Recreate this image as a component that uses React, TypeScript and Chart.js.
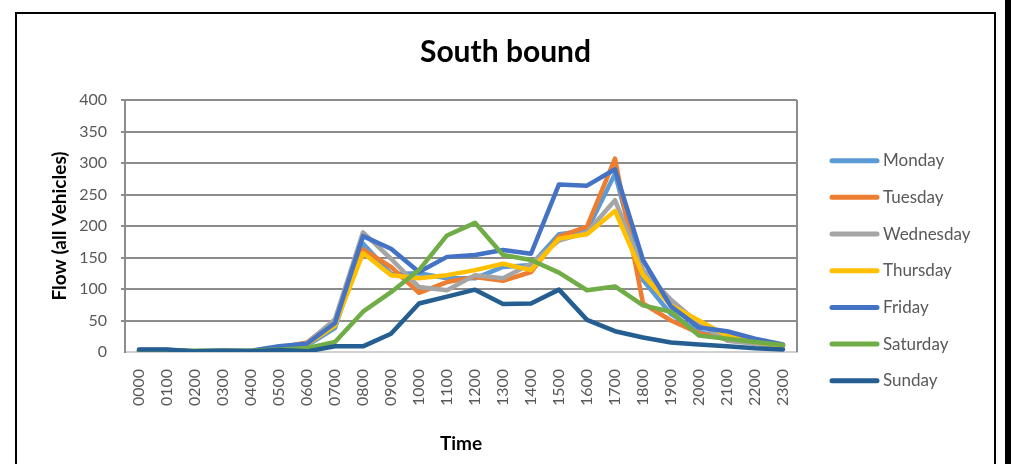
import React, { useEffect, useRef } from "react";
import { Chart, registerables } from "chart.js";

Chart.register(...registerables);

const hours = ["0000","0100","0200","0300","0400","0500","0600","0700","0800","0900","1000","1100","1200","1300","1400","1500","1600","1700","1800","1900","2000","2100","2200","2300"];

const monday = [2,2,1,1,1,6,10,38,172,124,125,117,117,135,138,187,193,283,114,60,32,21,15,10];
const tuesday = [1,1,1,1,1,7,15,50,163,135,94,111,119,113,127,183,199,307,77,50,30,20,15,10];
const wednesday = [2,2,1,1,1,7,14,52,190,148,103,98,122,117,140,177,190,241,130,83,45,18,13,9];
const thursday = [2,2,1,1,1,6,12,42,157,122,117,122,130,140,130,180,187,224,122,74,50,26,16,10];
const friday = [3,3,1,2,2,9,13,46,184,164,127,151,154,162,156,266,264,290,146,72,39,33,21,12];
const saturday = [1,1,2,2,2,4,6,16,64,95,130,185,205,154,146,126,98,104,74,64,26,21,16,11];
const sunday = [4,4,1,2,1,3,1,9,9,29,77,88,99,76,77,99,51,33,23,15,12,9,6,4];

const seriesNames = ["Monday","Tuesday","Wednesday","Thursday","Friday","Saturday","Sunday"];
const seriesValues = [monday, tuesday, wednesday, thursday, friday, saturday, sunday];
const seriesColors = ["#5B9BD5","#ED7D31","#A5A5A5","#FFC000","#4472C4","#70AD47","#255E91"];

const chartTitle = "South bound";
const yTitle = "Flow (all Vehicles)";
const xTitle = "Time";

const FONT = "Lato, 'Open Sans', sans-serif";

const sideLegend = {
  id: "sideLegend",
  afterDraw(chart: any) {
    const ctx = chart.ctx;
    ctx.save();
    chart.data.datasets.forEach((ds: any, i: number) => {
      const y = 160.7 + i * 36.67;
      ctx.strokeStyle = ds.borderColor;
      ctx.lineWidth = 5;
      ctx.lineCap = "round";
      ctx.beginPath();
      ctx.moveTo(832, y);
      ctx.lineTo(877, y);
      ctx.stroke();
      ctx.fillStyle = "#595959";
      ctx.font = "17px " + FONT;
      ctx.textBaseline = "middle";
      ctx.textAlign = "left";
      ctx.fillText(ds.label, 883, y);
    });
    ctx.restore();
  },
};

const centeredTitle = {
  id: "centeredTitle",
  afterDraw(chart: any) {
    const ctx = chart.ctx;
    ctx.save();
    ctx.fillStyle = "#000";
    ctx.font = "bold 30px " + FONT;
    ctx.textAlign = "center";
    ctx.textBaseline = "middle";
    ctx.fillText(chartTitle, chart.width / 2, 52);
    ctx.restore();
  },
};

const plotBorder = {
  id: "plotBorder",
  beforeDatasetsDraw(chart: any) {
    const { ctx, chartArea } = chart;
    ctx.save();
    ctx.strokeStyle = "#8c8c8c";
    ctx.lineWidth = 2;
    ctx.beginPath();
    ctx.moveTo(chartArea.right, chartArea.top);
    ctx.lineTo(chartArea.right, chartArea.bottom);
    ctx.stroke();
    ctx.restore();
  },
};

export default function App() {
  const ref = useRef<HTMLCanvasElement>(null);
  useEffect(() => {
    const chart = new Chart(ref.current as HTMLCanvasElement, {
      type: "line",
      data: {
        labels: hours,
        datasets: seriesNames.map((name, i) => ({
          label: name,
          data: seriesValues[i],
          borderColor: seriesColors[i],
          backgroundColor: seriesColors[i],
          borderWidth: 4.5,
          pointRadius: 0,
          tension: 0,
          borderJoinStyle: "round" as const,
          borderCapStyle: "round" as const,
          order: 7 - i,
        })),
      },
      options: {
        responsive: false,
        animation: false,
        devicePixelRatio: 1,
        layout: { padding: { left: 0, right: 214, top: 100, bottom: 0 } },
        plugins: {
          legend: { display: false },
          tooltip: { enabled: false },
          title: { display: false },
        },
        scales: {
          x: {
            type: "category",
            offset: true,
            grid: { display: false },
            border: { display: true, color: "#d0d0d0", width: 2 },
            ticks: {
              autoSkip: false,
              minRotation: 90,
              maxRotation: 90,
              padding: 9,
              color: "#595959",
              font: { family: FONT, size: 16 },
            },
            title: {
              display: true,
              text: xTitle,
              color: "#000",
              font: { family: FONT, size: 19, weight: "bold" },
              padding: { top: 0, bottom: 8.6 },
            },
            afterFit(scale: any) {
              scale.height = 112;
            },
          },
          y: {
            min: 0,
            max: 400,
            ticks: {
              stepSize: 50,
              padding: 14,
              color: "#595959",
              font: { family: FONT, size: 16 },
            },
            grid: {
              color: (c: any) => (c.tick && c.tick.value === 0 ? "rgba(0,0,0,0)" : "#8c8c8c"),
              lineWidth: 2,
              drawTicks: true,
              tickLength: 4,
            },
            border: { display: true, color: "#8c8c8c", width: 2 },
            title: {
              display: true,
              text: yTitle,
              color: "#000",
              font: { family: FONT, size: 19, weight: "bold" },
              padding: { top: 48.6, bottom: 0 },
            },
            afterFit(scale: any) {
              scale.width = 125;
            },
          },
        },
      },
      plugins: [plotBorder, sideLegend, centeredTitle],
    } as any);
    return () => chart.destroy();
  }, []);

  return (
    <div style={{ position: "fixed", left: 0, top: 0, width: 1011, height: 464, background: "#fff", overflow: "hidden" }}>
      <canvas ref={ref} width={1011} height={464} style={{ position: "absolute", left: 0, top: 0 }} />
      <div style={{ position: "absolute", left: 15, top: 12, width: 981, height: 480, border: "2px solid #000", boxSizing: "border-box", pointerEvents: "none" }} />
      <div style={{ position: "absolute", left: 1005, top: 0, width: 6, height: 464, background: "#000" }} />
    </div>
  );
}
